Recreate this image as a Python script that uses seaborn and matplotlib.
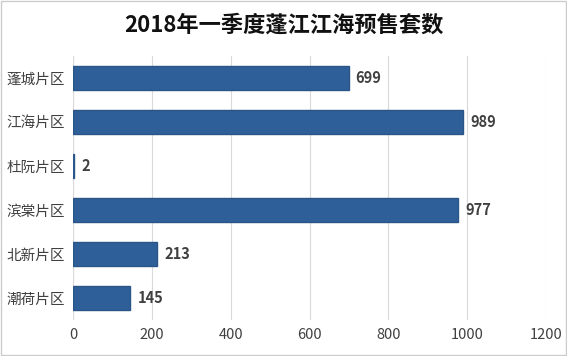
import matplotlib
matplotlib.use("Agg")
import matplotlib.pyplot as plt
import seaborn as sns
import pandas as pd

districts = ["蓬城片区", "江海片区", "杜阮片区", "滨棠片区", "北新片区", "潮荷片区"]
units = [699, 989, 2, 977, 213, 145]
x_ticks = [0, 200, 400, 600, 800, 1000, 1200]

df = pd.DataFrame({"district": districts, "units": units})

sns.set_style("white")
plt.rcParams["font.family"] = ["Noto Sans CJK SC", "DejaVu Sans"]

fig = plt.figure(figsize=(5.67, 3.56), dpi=100)
ax = fig.add_axes([0.129, 0.101, 0.834, 0.742])

sns.barplot(data=df, x="units", y="district", orient="h", color="#2f5f98",
            saturation=1, width=0.55, edgecolor="#2a5588", linewidth=1,
            ax=ax, zorder=3)

# 数值标签
for i, v in enumerate(units):
    ax.text(v + 18, i, str(v), va="center", ha="left", fontsize=10.5,
            fontweight="bold", color="#404040")

ax.set_xlim(0, 1200)
ax.set_xticks(x_ticks)
ax.set_xticklabels([str(t) for t in x_ticks])
ax.grid(axis="x", color="#d9d9d9", linewidth=0.8, zorder=0)
for s in ax.spines.values():
    s.set_visible(False)
ax.axvline(0, color="#d9d9d9", linewidth=0.8, zorder=1)
ax.tick_params(axis="both", length=0, labelsize=10.5, colors="#404040", pad=6)
ax.set_xlabel("")
ax.set_ylabel("")

fig.text(0.5, 0.93, "2018年一季度蓬江江海预售套数", ha="center", va="center",
         fontsize=16, fontweight="bold", color="#111111")

# 外框
fig.patches.append(plt.Rectangle((0.002, 0.003), 0.996, 0.994, transform=fig.transFigure,
                                 fill=False, edgecolor="#cccccc", linewidth=1))

plt.savefig("out.png", dpi=100)
